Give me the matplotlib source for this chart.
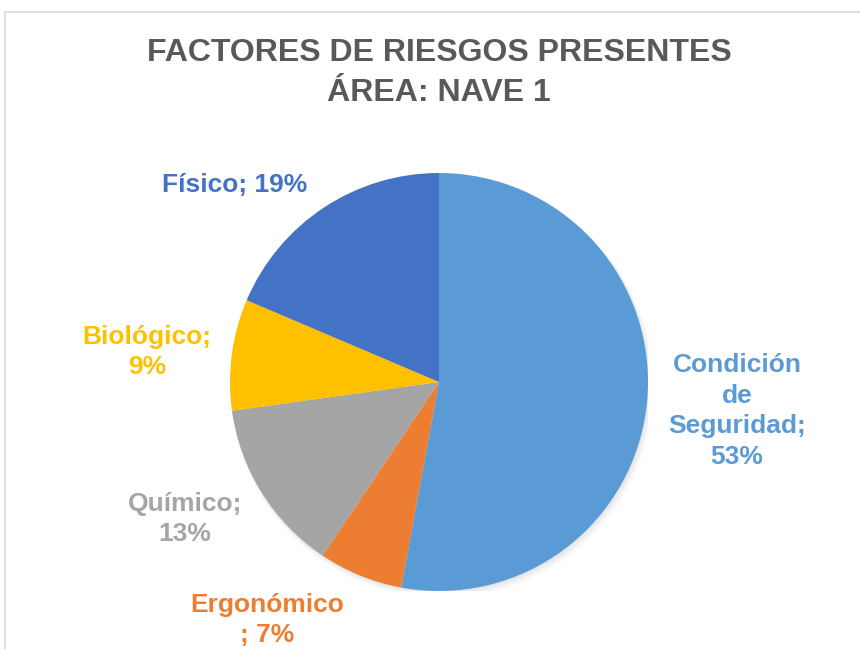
import matplotlib
matplotlib.use("Agg")
import matplotlib.pyplot as plt
from matplotlib.lines import Line2D

categories = ["Condición de Seguridad", "Ergonómico", "Químico", "Biológico", "Físico"]
values = [52.9, 6.5, 13.4, 8.6, 18.6]
pct_labels = ["53%", "7%", "13%", "9%", "19%"]
label_texts = ["Condición\nde\nSeguridad;\n53%", "Ergonómico\n; 7%", "Químico;\n13%", "Biológico;\n9%", "Físico; 19%"]
colors = ["#5B9BD5", "#ED7D31", "#A5A5A5", "#FFC000", "#4472C4"]
title = "FACTORES DE RIESGOS PRESENTES\nÁREA: NAVE 1"

W, H = 860, 649
fig = plt.figure(figsize=(W / 100, H / 100), dpi=100)
fig.patch.set_facecolor("white")

cx, cy, r = 439, 382, 209
ax = fig.add_axes([(cx - r) / W, (H - cy - r) / H, 2 * r / W, 2 * r / H])
ax.set_xlim(-1, 1)
ax.set_ylim(-1, 1)
ax.axis("off")

# soft shadow
for i, a in enumerate([0.03, 0.03, 0.025, 0.02]):
    circ = plt.Circle((0.004 * (i + 1), -0.006 * (i + 1)), 1.0 + 0.004 * i, color="black", alpha=a, lw=0)
    ax.add_patch(circ)

ax.pie(values, colors=colors, startangle=90, counterclock=False, radius=1.0,
       wedgeprops=dict(linewidth=0, edgecolor="none"))
ax.set_xlim(-1, 1)
ax.set_ylim(-1, 1)
ax.set_aspect("auto")

label_px = [(737, 411), (267, 620), (185, 519), (147, 352), (235, 185)]
for txt, (px, py), col in zip(label_texts, label_px, colors):
    ax.text((px - cx) / r, (cy - py) / r, txt, color=col, fontsize=19, fontweight="bold",
            family="Liberation Sans", ha="center", va="center", multialignment="center",
            linespacing=1.36, clip_on=False)

fig.text(439 / W, 1 - 73 / H, title, color="#595959", fontsize=23, fontweight="bold",
         family="Liberation Sans", ha="center", va="center", linespacing=1.4)

# chart border
fig.add_artist(Line2D([5 / W, 1.0], [1 - 12 / H, 1 - 12 / H], color="#D9D9D9", lw=1.2, transform=fig.transFigure))
fig.add_artist(Line2D([5 / W, 5 / W], [0, 1 - 12 / H], color="#D9D9D9", lw=1.2, transform=fig.transFigure))

fig.savefig("out.png", dpi=100, facecolor="white")
